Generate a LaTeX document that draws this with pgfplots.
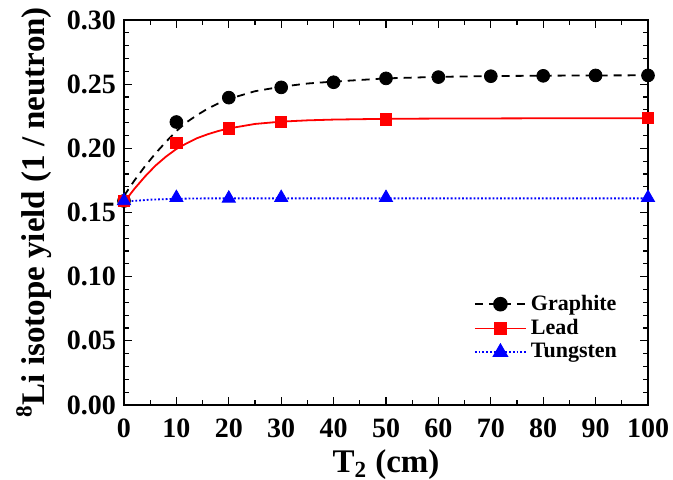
\documentclass[border=0pt]{standalone}
\usepackage{fontspec}
\setmainfont{Liberation Serif}
\usepackage{pgfplots}
\pgfplotsset{compat=1.18}

\begin{document}
\begin{tikzpicture}
\begin{axis}[
  at={(0,0)}, anchor=south west,
  scale only axis,
  width=262pt, height=192.5pt,
  xmin=0, xmax=100,
  ymin=0, ymax=0.30,
  xtick={0,10,20,30,40,50,60,70,80,90,100},
  ytick={0,0.05,0.10,0.15,0.20,0.25,0.30},
  minor x tick num=1,
  minor y tick num=4,
  tick align=inside,
  major tick length=4pt,
  minor tick length=2.5pt,
  every tick/.style={black, line width=0.6pt},
  axis line style={line width=0.8pt},
  tick label style={font=\fontsize{14}{16}\selectfont\bfseries},
  xticklabel style={yshift=-3.5pt},
  yticklabel style={xshift=-0.5pt},
  /pgf/number format/assume math mode=true,
  yticklabel style={/pgf/number format/.cd, fixed, fixed zerofill, precision=2},
  label style={font=\fontsize{16.5}{19}\selectfont\bfseries},
  xlabel={T\textsubscript{2} (cm)},
  ylabel={\textsuperscript{8}Li isotope yield (1 / neutron)},
  xlabel style={yshift=1pt},
  ylabel style={yshift=1pt},
  legend style={at={(0.667,0.297)}, anchor=north west, draw=none, fill=none,
                font=\fontsize{11}{13}\selectfont\bfseries, row sep=-1pt,
                inner sep=0pt},
  legend cell align=left,
  legend image code/.code={
    \draw[mark repeat=2, mark phase=2] plot coordinates {(0cm,0cm)(0.45cm,0cm)(0.9cm,0cm)};
  },
]
  % fitted curves
  \addplot[black, line width=0.9pt, dash pattern=on 4pt off 3pt, forget plot] coordinates {
    (0,0.163)(2,0.175)(4,0.186)(6,0.196)(8,0.205)(10,0.2135)(12,0.2205)(14,0.226)
    (16,0.231)(18,0.235)(20,0.2385)(25,0.2445)(30,0.248)(35,0.2505)(40,0.252)
    (50,0.2545)(60,0.2557)(70,0.2563)(80,0.2566)(90,0.2568)(100,0.2569)};
  \addplot[red, line width=0.9pt, forget plot] coordinates {
    (0,0.158)(2,0.1685)(4,0.178)(6,0.1865)(8,0.1935)(10,0.1995)(12,0.204)(14,0.208)
    (16,0.211)(18,0.2135)(20,0.2155)(25,0.219)(30,0.2208)(35,0.2218)(40,0.2224)
    (50,0.2230)(60,0.2232)(80,0.2234)(100,0.2235)};
  \addplot[blue, line width=0.9pt, densely dotted, forget plot] coordinates {
    (0,0.1585)(5,0.1600)(10,0.1607)(15,0.1610)(20,0.1610)(50,0.1610)(100,0.1610)};

  % data points
  \addplot[only marks, mark=*, mark size=3.2pt, black, forget plot] coordinates {
    (0,0.159)(10,0.2205)(20,0.2395)(30,0.2475)(40,0.2515)(50,0.2545)
    (60,0.2555)(70,0.2562)(80,0.2565)(90,0.2568)(100,0.2568)};
  \addplot[only marks, mark=square*, mark size=2.8pt, red, forget plot] coordinates {
    (0,0.159)(10,0.2045)(20,0.2155)(30,0.2205)(50,0.2225)(100,0.2235)};
  \addplot[only marks, mark=triangle*, mark size=3.8pt, blue, forget plot] coordinates {
    (0,0.159)(10,0.1615)(20,0.1610)(30,0.1615)(50,0.1615)(100,0.1615)};

  \addlegendimage{black, line width=0.9pt, dash pattern=on 4pt off 3pt, mark=*, mark size=3.2pt, mark options={solid}}
  \addlegendentry{Graphite}
  \addlegendimage{red, line width=0.9pt, mark=square*, mark size=2.8pt}
  \addlegendentry{Lead}
  \addlegendimage{blue, line width=0.9pt, densely dotted, mark=triangle*, mark size=3.8pt, mark options={solid}}
  \addlegendentry{Tungsten}
\end{axis}
\pgfresetboundingbox
\path[use as bounding box] (-62pt,-37.5pt) rectangle (274.5pt,202.5pt);
\end{tikzpicture}
\end{document}
